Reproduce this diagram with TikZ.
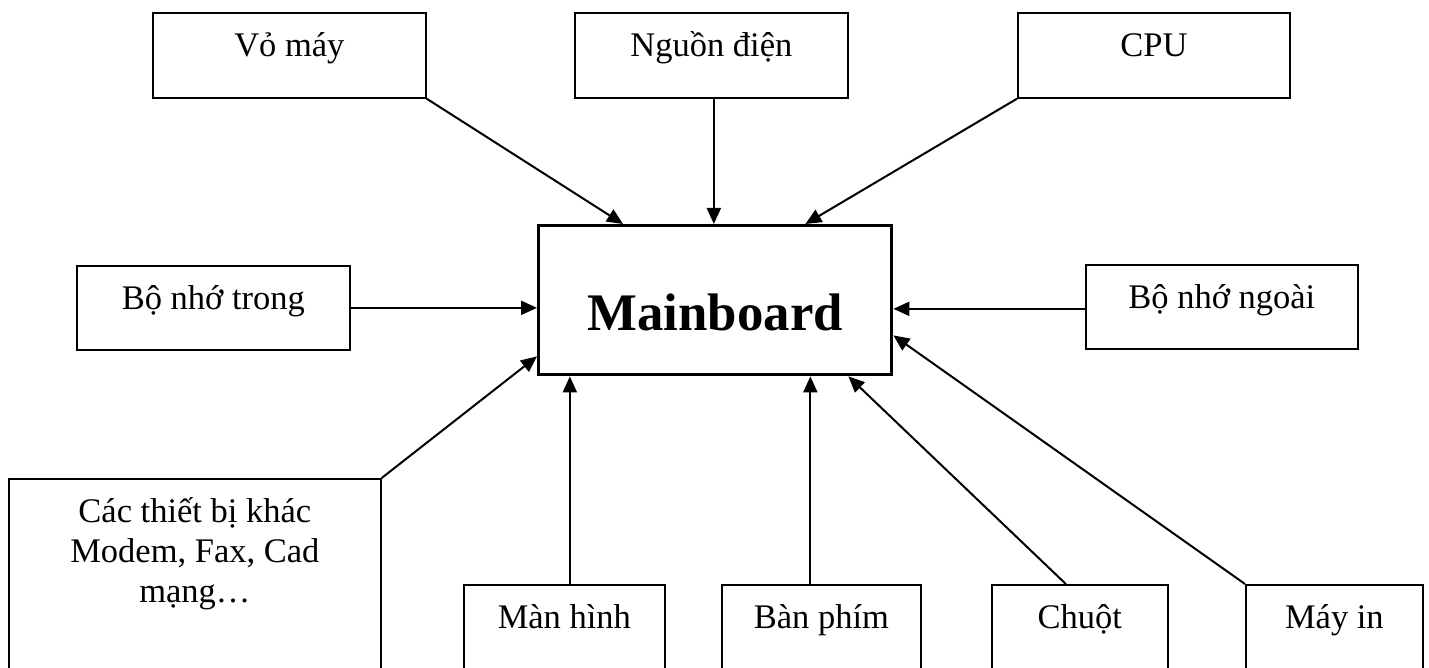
\documentclass[tikz,border=0pt]{standalone}
\usepackage{fontspec}
\setmainfont{Liberation Serif}
\usetikzlibrary{arrows.meta,calc}
\tikzset{
  box/.style={draw=black, line width=1.7pt, rectangle, inner sep=0pt, anchor=north west,
    font=\fontsize{34.5}{40}\selectfont, text height=44pt},
  mbox/.style={draw=black, line width=3.4pt, rectangle, inner sep=0pt, anchor=north west,
    font=\fontsize{52.8}{60}\selectfont\bfseries, text height=105pt, text depth=44pt},
  conn/.style={line width=2pt, -{Triangle[length=16pt,width=14pt]}}
}
\begin{document}
\begin{tikzpicture}[x=1pt,y=-1pt]
\useasboundingbox (0,0) rectangle (1429,668);
\clip (0,0) rectangle (1429,668);
\fill[white] (0,0) rectangle (1429,668);
% top row
\node[box, minimum width=273pt, text depth=41pt] (vo) at (152,12) {Vỏ máy};
\node[box, minimum width=273pt, text depth=41pt] (ng) at (574,12) {Nguồn điện};
\node[box, minimum width=272pt, text depth=41pt] (cpu) at (1017,12) {CPU};
% middle row
\node[box, minimum width=273pt, text depth=40pt] (bnt) at (76,265) {Bộ nhớ trong};
\node[mbox, minimum width=353pt] (mb) at (537,224) {Mainboard};
\node[box, minimum width=272pt, text depth=40pt] (bnn) at (1085,264) {Bộ nhớ ngoài};
% bottom
\node[box, minimum width=372pt, text depth=260pt] (oth) at (8,478)
  {\parbox[t]{360pt}{\centering Các thiết bị khác\\Modem, Fax, Cad\\mạng…}};
\node[box, minimum width=201pt, text depth=120pt] (mh) at (463,584) {Màn hình};
\node[box, minimum width=199pt, text depth=120pt] (bp) at (721,584) {Bàn phím};
\node[box, minimum width=176pt, text depth=120pt] (ch) at (991,584) {Chuột};
\node[box, minimum width=177pt, text depth=120pt] (mi) at (1245,584) {Máy in};
% connectors
\draw[conn] (vo.south east) -- ([xshift=86pt]mb.north west);
\draw[conn] ([xshift=2.5pt]ng.south) -- ([xshift=2.5pt]ng.south |- mb.north);
\draw[conn] (cpu.south west) -- ([xshift=-88pt]mb.north east);
\draw[conn] (bnt.east) -- (bnt.east -| mb.west);
\draw[conn] ([yshift=-2pt]bnn.west) -- ([yshift=-2pt]bnn.west -| mb.east);
\draw[conn] (oth.north east) -- ([yshift=20pt]mb.south west);
\draw[conn] ([xshift=5.5pt]mh.north) -- ([xshift=5.5pt]mh.north |- mb.south);
\draw[conn] ([xshift=-11pt]bp.north) -- ([xshift=-11pt]bp.north |- mb.south);
\draw[conn] ([xshift=-14pt]ch.north) -- ([xshift=-45pt]mb.south east);
\draw[conn] (mi.north west) -- ([yshift=41pt]mb.south east);
\end{tikzpicture}
\end{document}
